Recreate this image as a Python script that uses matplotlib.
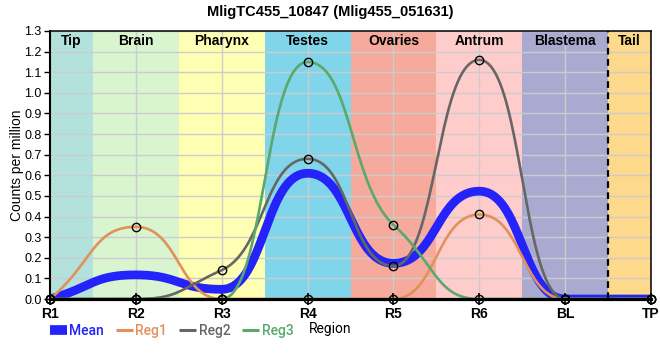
import numpy as np
import matplotlib
matplotlib.use("Agg")
from matplotlib import pyplot as plt
from matplotlib.path import Path
from matplotlib.lines import Line2D

# data
regions = ["R1", "R2", "R3", "R4", "R5", "R6", "BL", "TP"]
mean = [0.0, 0.117, 0.047, 0.61, 0.173, 0.523, 0.0, 0.0]
reg1 = [0.0, 0.35, 0.0, 0.0, 0.0, 0.41, 0.0, 0.0]
reg2 = [0.0, 0.0, 0.14, 0.68, 0.16, 1.16, 0.0, 0.0]
reg3 = [0.0, 0.0, 0.0, 1.15, 0.36, 0.0, 0.0, 0.0]

tissues = ["Tip", "Brain", "Pharynx", "Testes", "Ovaries", "Antrum", "Blastema", "Tail"]
tissue_edges = [0, 0.5, 1.5, 2.5, 3.5, 4.5, 5.5, 6.5, 7]
tissue_colors = ["#b3e2dd", "#d9f5d0", "#ffffb3", "#80d5ea",
                 "#f5aa9c", "#ffcccc", "#aaaad0", "#fdd98b"]


def sgn(v):
    return -1.0 if v < 0 else 1.0


def smooth_path(x, y, a=0.5):
    # monotone tangents, bezier handles a bit longer than 1/3 for flatter tops
    n = len(x)
    t = np.zeros(n)
    for i in range(1, n - 1):
        h0 = x[i] - x[i - 1]
        h1 = x[i + 1] - x[i]
        s0 = (y[i] - y[i - 1]) / h0
        s1 = (y[i + 1] - y[i]) / h1
        p = (s0 * h1 + s1 * h0) / (h0 + h1)
        t[i] = (sgn(s0) + sgn(s1)) * min(abs(s0), abs(s1), 0.5 * abs(p))
    t[0] = (3 * (y[1] - y[0]) / (x[1] - x[0]) - t[1]) / 2
    t[-1] = (3 * (y[-1] - y[-2]) / (x[-1] - x[-2]) - t[-2]) / 2
    verts = [(x[0], y[0])]
    codes = [Path.MOVETO]
    for i in range(n - 1):
        d = (x[i + 1] - x[i]) * a
        verts += [(x[i] + d, y[i] + d * t[i] / (3 * a)),
                  (x[i + 1] - d, y[i + 1] - d * t[i + 1] / (3 * a)),
                  (x[i + 1], y[i + 1])]
        codes += [Path.CURVE4] * 3
    return Path(verts, codes)


def stroke_points(path):
    # let matplotlib evaluate every bezier piece of the path
    pts = []
    for seg, code in path.iter_bezier():
        if code == Path.MOVETO:
            continue
        pts.append(seg(np.linspace(0, 1, 40)))
    return np.vstack(pts)


fig = plt.figure(figsize=(6.6, 3.6), dpi=100)
ax = fig.add_axes([0.0758, 0.1694, 0.9106, 0.7445])

xs = np.arange(len(regions), dtype=float)

for i, name in enumerate(tissues):
    ax.axvspan(tissue_edges[i], tissue_edges[i + 1], color=tissue_colors[i], zorder=0, lw=0)
    ax.text((tissue_edges[i] + tissue_edges[i + 1]) / 2, 1.287, name,
            ha="center", va="top", fontsize=10, fontweight="bold",
            family="Liberation Sans", zorder=5)

ax.axvline(6.5, color="black", lw=1.6, ls=(0, (3, 2)), zorder=4)

series = [
    ("Mean", mean, "#2323fa", 6.3),
    ("Reg1", reg1, "#e2915a", 1.9),
    ("Reg2", reg2, "#666666", 1.9),
    ("Reg3", reg3, "#5aa86e", 1.9),
]

for k, (name, vals, col, lw) in enumerate(series):
    curve = stroke_points(smooth_path(xs, np.array(vals)))
    ax.plot(curve[:, 0], curve[:, 1], color=col, lw=lw,
            solid_capstyle="round", solid_joinstyle="round", zorder=2 + k * 0.01)
    if name != "Mean":
        ax.plot(xs, vals, ls="none", marker="o", ms=6, mfc="none", mec="black",
                mew=1, zorder=3, clip_on=False)

ax.set_xlim(0, 7)
ax.set_ylim(0, 1.3)
ax.set_xticks(xs)
ax.set_xticklabels(regions, fontsize=10, fontweight="bold", family="Liberation Sans")
yt = np.arange(0, 1.31, 0.1)
ax.set_yticks(yt)
ax.set_yticklabels([f"{v:.1f}" for v in yt], fontsize=9, family="Liberation Sans")
ax.tick_params(axis="x", direction="inout", length=8, width=1.2, pad=2)
ax.tick_params(axis="y", direction="out", length=4, width=1, pad=2)
ax.grid(True, color="#cccccc", lw=1)
for g in ax.get_xgridlines() + ax.get_ygridlines():
    g.set_zorder(1)

ax.spines["bottom"].set_linewidth(2.3)
ax.spines["left"].set_linewidth(1.5)
ax.spines["top"].set_linewidth(1.1)
ax.spines["right"].set_linewidth(1.1)
for s in ax.spines.values():
    s.set_zorder(6)

ax.set_ylabel("Counts per million", fontsize=10, family="Liberation Sans")
ax.yaxis.set_label_coords(-0.043, 0.5)
fig.text(0.5, 0.086, "Region", ha="center", va="center", fontsize=10, family="Roboto")
fig.suptitle("MligTC455_10847 (Mlig455_051631)", x=0.5, y=0.985, fontsize=10.5,
             fontweight="bold", family="Liberation Sans")

handles = [Line2D([], [], color=c, lw=(7 if n == "Mean" else 2.2), solid_capstyle="butt")
           for n, v, c, lw in series]
leg = ax.legend(handles, [s[0] for s in series], loc="center left",
                bbox_to_anchor=(0.0, -0.12), ncol=4, frameon=False,
                handlelength=1.2, handletextpad=0.2, columnspacing=0.85,
                borderaxespad=0, borderpad=0,
                prop={"family": "Roboto", "size": 10, "weight": "medium"})
for txt, s in zip(leg.get_texts(), series):
    txt.set_color(s[2])

fig.savefig("out.png", dpi=100)
